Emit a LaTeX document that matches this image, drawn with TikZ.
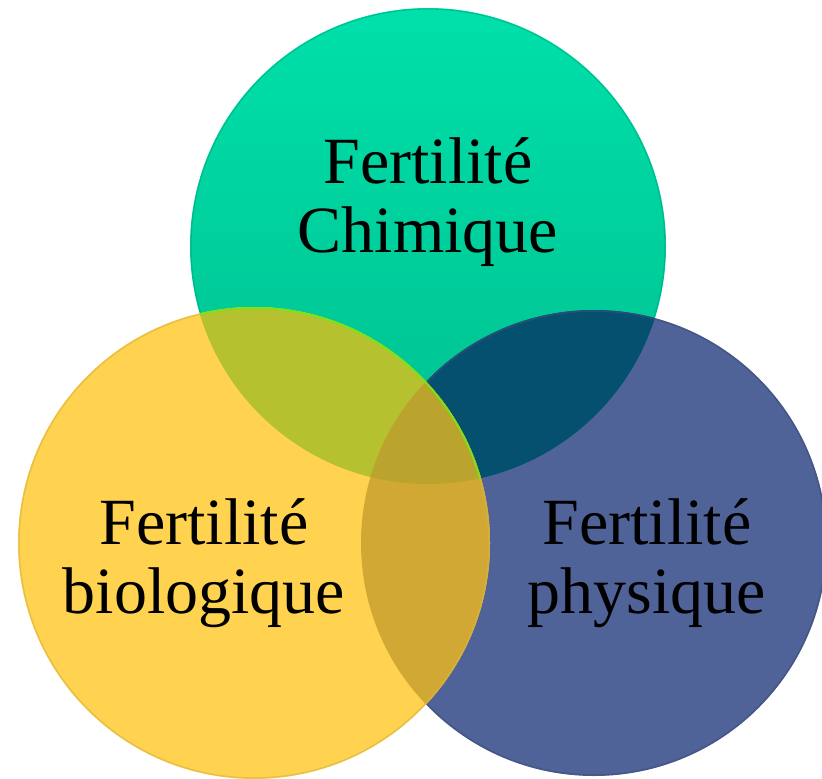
\documentclass[tikz,border=0pt]{standalone}
\usepackage{fontspec}
\setmainfont{Liberation Serif}
\definecolor{tealTop}{HTML}{00E0AA}
\definecolor{tealBot}{HTML}{00BF8F}
\definecolor{yellowC}{HTML}{FFD34F}
\definecolor{blueC}{HTML}{506399}
\definecolor{tyC}{HTML}{B5C12F}
\definecolor{tbC}{HTML}{05506F}
\definecolor{ybC}{HTML}{D1A833}
\definecolor{tybC}{HTML}{BBA42E}
\tikzset{
  lbl/.style={anchor=base, align=center, font=\fontsize{66}{69}\selectfont, text=black, inner sep=0pt},
}
\begin{document}
\begin{tikzpicture}[x=1pt,y=-1pt]
\useasboundingbox (0,0) rectangle (822,779);
\coordinate (T) at (428,246);
\coordinate (Y) at (254,543);
\coordinate (B) at (594,543);
% teal
\shade[top color=tealTop, bottom color=tealBot] (T) circle[radius=238pt];
\draw[tealBot!85!black, line width=1.2pt, opacity=.5] (T) circle[radius=237pt];
% blue
\fill[blueC] (B) circle[radius=233pt];
\begin{scope}
  \clip (T) circle[radius=238pt];
  \fill[tbC] (B) circle[radius=233pt];
\end{scope}
\draw[blueC!80!black, line width=1.5pt, opacity=.6] (B) circle[radius=232pt];
% yellow
\fill[yellowC] (Y) circle[radius=236pt];
\begin{scope}
  \clip (T) circle[radius=238pt];
  \fill[tyC] (Y) circle[radius=236pt];
\end{scope}
\begin{scope}
  \clip (B) circle[radius=233pt];
  \fill[ybC] (Y) circle[radius=236pt];
\end{scope}
\begin{scope}
  \clip (T) circle[radius=238pt];
  \clip (B) circle[radius=233pt];
  \fill[tybC] (Y) circle[radius=236pt];
\end{scope}
\draw[yellowC!85!black, line width=1.5pt, opacity=.6] (Y) circle[radius=235pt];
\begin{scope}
  \clip (T) circle[radius=238pt];
  \draw[green!70!yellow, line width=2pt, opacity=.6] (Y) circle[radius=235pt];
\end{scope}
% labels
\node[lbl] (chim) at (428,252) {Fertilité\\Chimique};
\node[lbl] (bio) at (204,613) {Fertilité\\biologique};
\node[lbl] (phys) at (647,613) {Fertilité\\physique};
\end{tikzpicture}
\end{document}
